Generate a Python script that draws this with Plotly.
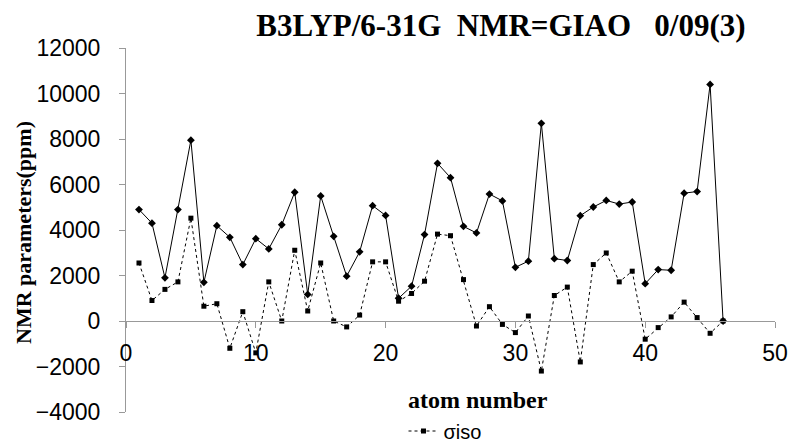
import plotly.graph_objects as go

atom = list(range(1, 47))
# solid series (upper curve)
upper = [4900, 4300, 1900, 4900, 7950, 1700, 4190, 3680, 2480, 3620,
         3170, 4230, 5660, 1170, 5500, 3720, 1970, 3040, 5070, 4640,
         1000, 1530, 3800, 6930, 6300, 4160, 3870, 5580, 5280, 2360,
         2630, 8690, 2740, 2660, 4630, 5010, 5300, 5140, 5230, 1640,
         2260, 2230, 5620, 5690, 10400, 0]
# dashed series (sigma iso)
siso = [2550, 900, 1390, 1720, 4520, 650, 760, -1200, 410, -1400,
        1720, 0, 3110, 440, 2550, 0, -260, 260, 2600, 2600,
        870, 1210, 1750, 3820, 3750, 1820, -220, 630, -150, -510,
        220, -2200, 1120, 1490, -1800, 2480, 2990, 1720, 2190, -800,
        -290, 180, 830, 150, -540, 0]

yticks = [-4000, -2000, 0, 2000, 4000, 6000, 8000, 10000, 12000]
xticks = [0, 10, 20, 30, 40, 50]

fig = go.Figure()
fig.add_trace(go.Scatter(
    x=atom, y=upper, mode="lines+markers", name="upper",
    line=dict(color="black", width=1),
    marker=dict(symbol="diamond", size=6, color="black"),
    showlegend=False))
fig.add_trace(go.Scatter(
    x=atom, y=siso, mode="lines+markers", name="σiso",
    line=dict(color="black", width=1, dash="3px,3px"),
    marker=dict(symbol="square", size=5, color="black")))

W, H = 791, 445
ml, mr, mt, mb = 126, 16, 48, 33
pw, ph = W - ml - mr, H - mt - mb
serif = "Liberation Serif, Times New Roman, serif"
sans = "Liberation Sans, Arial, sans-serif"

fig.update_layout(
    width=W, height=H,
    margin=dict(l=ml, r=mr, t=mt, b=mb, autoexpand=False),
    paper_bgcolor="white", plot_bgcolor="white",
    font=dict(family=sans, size=20, color="black"),
    title=dict(text="<b>B3LYP/6-31G\u00a0\u00a0NMR=GIAO\u00a0\u00a0\u00a00/09(3)</b>",
               x=501 / W, xanchor="center", y=1 - 25 / H, yanchor="middle",
               font=dict(family=serif, size=31)),
    xaxis=dict(range=[0, 50], tickvals=xticks, showgrid=False, zeroline=False,
               showline=True, linecolor="#999999", linewidth=1,
               ticks="outside", ticklen=6, tickcolor="#999999",
               anchor="free", position=0.25, ticklabelstandoff=5,
               tickfont=dict(family=sans, size=23)),
    yaxis=dict(range=[-4000, 12000], tickvals=yticks, tickformat="d",
               showgrid=False, zeroline=False,
               showline=True, linecolor="#999999", linewidth=1,
               ticks="outside", ticklen=6, tickcolor="#999999",
               ticklabelstandoff=14,
               tickfont=dict(family=sans, size=23)),
    legend=dict(orientation="h", x=(445 - ml) / pw, xanchor="center",
                y=-(431 - (H - mb)) / ph, yanchor="middle",
                bgcolor="rgba(0,0,0,0)", font=dict(family=sans, size=20)),
    annotations=[
        dict(text="<b>atom number</b>", xref="paper", yref="paper",
             x=(478 - ml) / pw, y=((H - mb) - 400) / ph,
             xanchor="center", yanchor="middle", showarrow=False,
             font=dict(family=serif, size=24)),
        dict(text="<b>NMR parameters(ppm)</b>", xref="paper", yref="paper",
             x=-(ml - 23) / pw, y=((H - mb) - 233) / ph, textangle=-90,
             xanchor="center", yanchor="middle", showarrow=False,
             font=dict(family=serif, size=22)),
    ],
)

fig.write_html("out.html")
